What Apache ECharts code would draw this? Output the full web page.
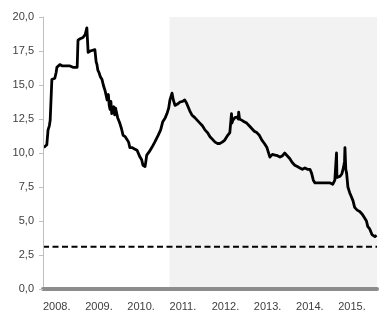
<!DOCTYPE html>
<html>
<head>
<meta charset="utf-8">
<script src="https://cdn.jsdelivr.net/npm/echarts@6/dist/echarts.min.js"></script>
<style>html,body{margin:0;padding:0;background:#fff;}#c{width:388px;height:317px;}</style>
</head>
<body>
<div id="c"></div>
<script>
// Time as fractional year
var dates = [
  2008.02,2008.06,2008.09,2008.12,2008.15,2008.17,2008.20,2008.21,2008.25,2008.28,2008.31,2008.33,2008.36,2008.40,
  2008.46,2008.52,2008.58,2008.64,2008.71,2008.76,2008.81,2008.83,2008.88,2008.95,2009.00,2009.04,2009.07,2009.12,
  2009.16,2009.23,2009.26,2009.28,2009.30,2009.33,2009.36,2009.38,2009.40,2009.43,2009.45,2009.47,2009.50,2009.52,
  2009.55,2009.57,2009.59,2009.61,2009.63,2009.66,2009.68,2009.70,2009.72,2009.75,2009.77,2009.79,2009.82,2009.86,
  2009.90,2009.95,2009.99,2010.03,2010.06,2010.11,2010.17,2010.23,2010.27,2010.30,2010.34,2010.37,2010.40,2010.42,
  2010.44,2010.46,2010.52,2010.58,2010.65,2010.73,2010.79,2010.84,2010.90,2010.94,2010.98,2011.01,2011.06,2011.09,
  2011.13,2011.19,2011.25,2011.31,2011.36,2011.40,2011.44,2011.48,2011.53,2011.56,2011.60,2011.66,2011.72,2011.78,
  2011.84,2011.90,2011.96,2012.02,2012.08,2012.14,2012.19,2012.25,2012.31,2012.38,2012.43,2012.47,2012.48,2012.50,
  2012.55,2012.60,2012.63,2012.64,2012.66,2012.72,2012.77,2012.83,2012.89,2012.95,2013.01,2013.07,2013.13,2013.19,
  2013.25,2013.31,2013.38,2013.44,2013.50,2013.56,2013.62,2013.68,2013.73,2013.79,2013.85,2013.91,2013.97,2014.03,
  2014.09,2014.15,2014.21,2014.27,2014.33,2014.37,2014.41,2014.45,2014.53,2014.61,2014.68,2014.75,2014.81,2014.87,
  2014.92,2014.95,2014.96,2014.97,2014.98,2015.01,2015.05,2015.09,2015.13,2015.15,2015.16,2015.18,2015.20,2015.23,
  2015.27,2015.31,2015.35,2015.39,2015.45,2015.51,2015.57,2015.63,2015.67,2015.70,2015.75,2015.80,2015.84,2015.87,2015.91
];
var rates = [
  10.4,10.5,10.6,11.7,12.0,12.4,12.4,15.4,15.5,15.5,15.9,16.3,16.4,16.5,
  16.4,16.4,16.4,16.4,16.3,16.3,16.3,18.3,18.4,18.5,18.7,19.2,17.4,17.5,
  17.6,17.6,16.7,16.5,16.1,15.9,15.6,15.5,15.4,15.0,14.8,14.6,14.2,13.9,
  14.3,13.5,13.2,13.8,12.9,12.9,13.4,12.8,13.3,13.4,12.6,12.5,12.2,11.8,
  11.3,11.2,11.1,10.8,10.4,10.4,10.3,10.2,10.1,9.7,9.5,9.1,9.2,9.0,
  9.4,9.85,10.1,10.4,10.8,11.3,11.7,12.3,12.6,12.9,13.3,13.9,14.4,13.9,
  13.5,13.6,13.75,13.8,13.9,13.7,13.4,13.1,12.8,12.7,12.6,12.4,12.2,12.0,
  11.7,11.5,11.2,11.0,10.8,10.7,10.7,10.8,10.95,11.3,11.5,12.9,12.2,12.4,
  12.6,12.65,12.5,13.0,12.5,12.4,12.3,12.2,12.0,11.8,11.6,11.5,11.3,10.95,
  10.7,10.4,9.7,9.9,9.85,9.8,9.7,9.8,10.0,9.8,9.6,9.3,9.1,9.0,
  8.9,8.8,8.9,8.8,8.8,8.5,8.0,7.8,7.8,7.8,7.8,7.8,7.8,7.7,
  8.0,8.1,10.0,8.2,8.2,8.2,8.3,8.5,9.0,9.4,10.4,8.8,8.5,7.5,
  7.1,6.8,6.5,6.0,5.8,5.7,5.5,5.2,5.0,4.6,4.4,4.0,3.9,3.85,3.95
];
var threshold = 3.1;
var shadeStart = 2011.0;
var xMin = 2008, xMax = 2015.92;
var yTicks = ['0,0','2,5','5,0','7,5','10,0','12,5','15,0','17,5','20,0'];

var chart = echarts.init(document.getElementById('c'));
var font = 'Liberation Sans';
chart.setOption({
  animation: false,
  grid: {left: 43, right: 11, top: 17, bottom: 28, containLabel: false},
  xAxis: {
    type: 'value', min: xMin, max: xMax, interval: 1,
    offset: 2, z: 10,
    axisLine: {show: true, lineStyle: {color: '#8c8c8c', width: 4}},
    axisTick: {show: false},
    splitLine: {show: false},
    axisLabel: {
      align: 'left', margin: 10, color: '#404040', fontSize: 11, fontFamily: font,
      showMaxLabel: false,
      formatter: function (v) { return (Math.abs(v - Math.round(v)) < 1e-6) ? (Math.round(v) + '.') : ''; }
    }
  },
  yAxis: {
    type: 'value', min: 0, max: 20, interval: 2.5, z: 10,
    axisLine: {show: true, lineStyle: {color: '#bfbfbf', width: 1}},
    axisTick: {show: true, inside: false, length: 4, lineStyle: {color: '#bfbfbf'}},
    splitLine: {show: false},
    axisLabel: {
      margin: 9, color: '#404040', fontSize: 11, fontFamily: font,
      formatter: function (v) { return yTicks[Math.round(v / 2.5)]; }
    }
  },
  series: [
    {
      type: 'line', z: 1, symbol: 'none', silent: true,
      data: [[xMin, threshold], [xMax, threshold]],
      lineStyle: {color: '#000', width: 2, type: [6, 3.5]},
      markArea: {
        silent: true,
        itemStyle: {color: '#f2f2f2'},
        data: [[{xAxis: shadeStart}, {xAxis: xMax}]]
      }
    },
    {
      type: 'line', z: 3, symbol: 'none', silent: true,
      data: dates.map(function (d, i) { return [d, rates[i]]; }),
      lineStyle: {color: '#000', width: 2.8, join: 'round'}
    }
  ]
});
</script>
</body>
</html>
